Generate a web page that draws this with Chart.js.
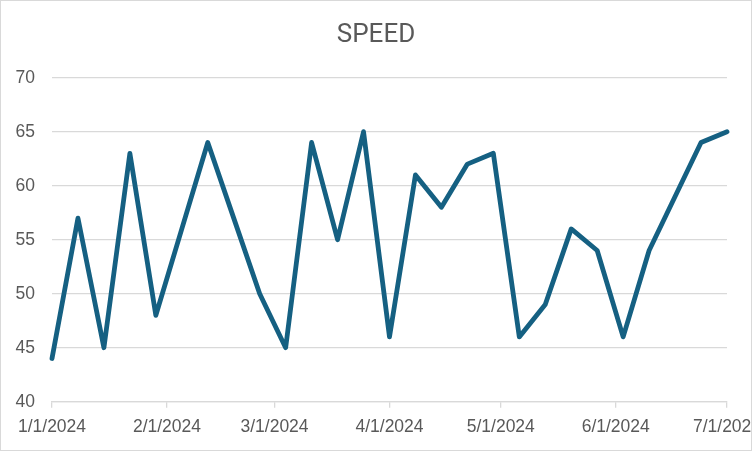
<!DOCTYPE html>
<html>
<head>
<meta charset="utf-8">
<script src="https://cdn.jsdelivr.net/npm/chart.js@4.4.1/dist/chart.umd.min.js"></script>
<style>
  body { margin: 0; background: #fff; }
  #wrap { width: 752px; height: 451px; box-sizing: border-box; border: 1px solid #d9d9d9; overflow: hidden; position: relative; }
  #wrap canvas { display: block; }
</style>
</head>
<body>
<div id="wrap"><canvas id="speedChart" width="750" height="449"></canvas></div>
<script>
// weekly readings
const dates = ['2024-01-01', '2024-01-08', '2024-01-15', '2024-01-22', '2024-01-29',
    '2024-02-05', '2024-02-12', '2024-02-19', '2024-02-26',
    '2024-03-04', '2024-03-11', '2024-03-18', '2024-03-25',
    '2024-04-01', '2024-04-08', '2024-04-15', '2024-04-22', '2024-04-29',
    '2024-05-06', '2024-05-13', '2024-05-20', '2024-05-27',
    '2024-06-03', '2024-06-10', '2024-06-17', '2024-06-24', '2024-07-01'];
const speed = [44, 57, 45, 63, 48, 56, 64, 57, 50, 45, 64, 55, 65, 46, 61, 58, 62, 63, 46, 49, 56, 54, 46, 54, 59, 64, 65];

// x axis ticks: first of each month
const monthDates = ['2024-01-01', '2024-02-01', '2024-03-01', '2024-04-01', '2024-05-01', '2024-06-01', '2024-07-01'];
const monthLabels = ['1/1/2024', '2/1/2024', '3/1/2024', '4/1/2024', '5/1/2024', '6/1/2024', '7/1/2024'];
const yTicks = [40, 45, 50, 55, 60, 65, 70];

function dayOf(s) {
    let p = s.split('-');
    return (Date.UTC(+p[0], p[1] - 1, +p[2]) - Date.UTC(2024, 0, 1)) / 86400000;
}

function drawChart() {
    const monthDays = monthDates.map(dayOf);
    const points = dates.map((d, i) => ({x: dayOf(d), y: speed[i]}));
    const grey = '#595959';
    const gridCol = '#d9d9d9';
    const tickFont = { family: 'Liberation Sans', size: 17.5 };

    let ctx = document.getElementById('speedChart').getContext('2d');
    new Chart(ctx, {
        type: 'line',
        data: {
            datasets: [{
                label: 'SPEED',
                data: points,
                borderColor: '#156082',
                borderWidth: 4.8,
                borderJoinStyle: 'round',
                borderCapStyle: 'round',
                pointRadius: 0,
                tension: 0,
                clip: false,
                fill: false
            }]
        },
        options: {
            responsive: false,
            animation: false,
            layout: { padding: 0 },
            plugins: {
                legend: { display: false },
                tooltip: { enabled: false },
                title: {
                    display: true,
                    text: 'SPEED',
                    color: grey,
                    font: { family: 'Roboto', size: 26, weight: 'normal', lineHeight: 1.2 },
                    padding: { top: 18.5, bottom: 27 }
                }
            },
            scales: {
                x: {
                    type: 'linear',
                    min: monthDays[0],
                    max: monthDays[monthDays.length - 1],
                    afterBuildTicks: (scale) => {
                        scale.ticks = monthDays.map(v => ({value: v}));
                    },
                    afterFit: (scale) => {
                        scale.paddingRight = 0;
                        scale.height = 48.3;
                    },
                    grid: {
                        drawOnChartArea: false,
                        drawTicks: true,
                        tickLength: 6,
                        color: gridCol,
                        lineWidth: 1.3
                    },
                    border: { display: true, color: gridCol, width: 1.3 },
                    ticks: {
                        color: grey,
                        font: tickFont,
                        padding: 9,
                        maxRotation: 0,
                        autoSkip: false,
                        callback: (value) => monthLabels[monthDays.indexOf(value)]
                    }
                },
                y: {
                    min: 40,
                    max: 70,
                    afterBuildTicks: (scale) => {
                        scale.ticks = yTicks.map(v => ({value: v}));
                    },
                    afterFit: (scale) => {
                        scale.width = 51;
                    },
                    grid: {
                        drawTicks: false,
                        color: gridCol,
                        lineWidth: 1.3
                    },
                    border: { display: false },
                    ticks: {
                        color: grey,
                        font: tickFont,
                        padding: 17
                    }
                },
                // empty right-hand strip so the plot stops short of the edge
                yRight: {
                    position: 'right',
                    min: 40,
                    max: 70,
                    afterFit: (scale) => {
                        scale.width = 24;
                    },
                    grid: { display: false, drawTicks: false },
                    border: { display: false },
                    ticks: { display: false }
                }
            }
        }
    });
}

drawChart();
</script>
</body>
</html>
